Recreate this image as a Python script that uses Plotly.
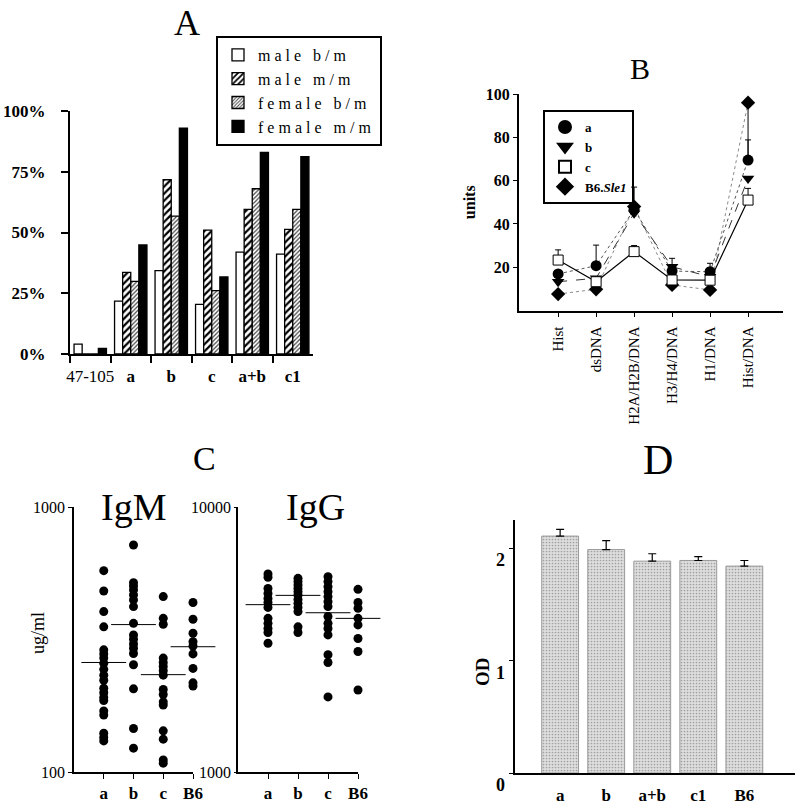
import plotly.graph_objects as go

SERIF = "Liberation Serif"
W, H = 800, 809

# ---------------- Panel A data ----------------
a_categories = ["47-105", "a", "b", "c", "a+b", "c1"]
a_ticktext = ["47-105", "<b>a</b>", "<b>b</b>", "<b>c</b>", "<b>a+b</b>", "<b>c1</b>"]
a_yticks = [0, 25, 50, 75, 100]
male_bm = [4.1, 21.8, 34.3, 20.4, 41.9, 41.1]
male_mm = [0, 33.6, 71.7, 51.0, 59.5, 51.3]
female_bm = [0, 29.9, 56.7, 26.1, 68.0, 59.5]
female_mm = [2.3, 44.9, 92.9, 31.7, 83.0, 81.2]

# ---------------- Panel B data ----------------
b_categories = ["Hist", "dsDNA", "H2A/H2B/DNA", "H3/H4/DNA", "H1/DNA", "Hist/DNA"]
b_yticks = [20, 40, 60, 80, 100]
b_a = [16.9, 20.7, 46.6, 18.2, 17.9, 69.5]
b_b = [13.3, 14.9, 44.9, 20.2, 15.6, 61.0]
b_c = [23.3, 13.3, 27.2, 14.1, 14.0, 51.0]
b_b6 = [7.6, 9.8, 48.0, 11.8, 9.5, 96.0]
b_a_err = [0, 9.5, 10.4, 5.9, 3.9, 9.3]
b_c_err = [4.7, 0, 2.8, 0, 0, 5.4]
b_b6_err_minus = [0, 0, 0, 0, 0, 26]

# ---------------- Panel C data ----------------
c_groups = ["a", "b", "c", "B6"]
igm_a = [575, 482, 403, 353, 289, 279, 269, 257, 244, 232, 222, 207, 199, 191, 186, 170, 164, 140, 135, 131]
igm_b = [719, 518, 503, 486, 466, 446, 421, 364, 329, 317, 304, 293, 280, 254, 206, 146, 123]
igm_c = [459, 380, 361, 269, 259, 250, 241, 232, 205, 196, 184, 179, 143, 133, 111, 108]
igm_b6 = [436, 377, 334, 310, 299, 279, 246, 217, 211]
igm_median = [259, 360, 233, 297]
igg_a = [5590, 5430, 4930, 4720, 4520, 4360, 4180, 3800, 3640, 3480, 3360, 3060]
igg_b = [5380, 5230, 5080, 4930, 4790, 4660, 4480, 4330, 4180, 4030, 3530, 3360]
igg_c = [5460, 5230, 5000, 4790, 4590, 4390, 4210, 3860, 3640, 3480, 3290, 2770, 2590, 1920]
igg_b6 = [4890, 4360, 4150, 3800, 3590, 3190, 2850, 2040]
igg_median = [4280, 4640, 3990, 3800]

# ---------------- Panel D data ----------------
d_categories = ["a", "b", "a+b", "c1", "B6"]
d_yticks = [0, 1, 2]
d_od = [2.107, 1.987, 1.884, 1.890, 1.840]
d_err = [0.059, 0.080, 0.066, 0.035, 0.050]


def xd(x0, x1):
    return [x0 / W, x1 / W]


def yd(ybot, ytop):
    return [1 - ybot / H, 1 - ytop / H]


def bold(items):
    return ["<b>%s</b>" % t for t in items]


def spaced(t):
    return '<span style="letter-spacing:4px">%s</span>' % t


fig = go.Figure()

# ---- Panel A bars ----
def bar(name, vals, color, pattern=None, line="black"):
    m = dict(color=color, line=dict(color=line, width=1.3))
    if pattern:
        m["pattern"] = pattern
    fig.add_trace(go.Bar(x=a_categories, y=vals, name=spaced(name), marker=m,
                         xaxis="x", yaxis="y", legend="legend"))

bar("male b/m", male_bm, "white")
bar("male m/m", male_mm, "white",
    dict(shape="/", fgcolor="black", bgcolor="white", size=5, solidity=0.45, fillmode="replace"))
bar("female b/m", female_bm, "white",
    dict(shape="/", fgcolor="#444", bgcolor="white", size=3, solidity=0.4, fillmode="replace"))
bar("female m/m", female_mm, "black")

# ---- Panel B lines ----
err_style = dict(type="data", symmetric=False, color="black", thickness=1, width=3)
fig.add_trace(go.Scatter(x=b_categories, y=b_b6, mode="lines+markers", showlegend=False,
                         line=dict(color="#8a8a8a", width=1, dash="dot"),
                         marker=dict(symbol="diamond", size=11, color="black"),
                         error_y=dict(err_style, array=[0] * 6, arrayminus=b_b6_err_minus, width=0),
                         xaxis="x2", yaxis="y2"))
fig.add_trace(go.Scatter(x=b_categories, y=b_b, mode="lines+markers", showlegend=False,
                         line=dict(color="#333", width=1, dash="dash"),
                         marker=dict(symbol="triangle-down", size=11, color="black"),
                         xaxis="x2", yaxis="y2"))
fig.add_trace(go.Scatter(x=b_categories, y=b_a, mode="lines+markers", showlegend=False,
                         line=dict(color="#555", width=1, dash="dot"),
                         marker=dict(symbol="circle", size=11, color="black"),
                         error_y=dict(err_style, array=b_a_err, arrayminus=[0] * 6),
                         xaxis="x2", yaxis="y2"))
fig.add_trace(go.Scatter(x=b_categories, y=b_c, mode="lines+markers", showlegend=False,
                         line=dict(color="black", width=1.2),
                         marker=dict(symbol="square", size=10, color="white", line=dict(color="black", width=1)),
                         error_y=dict(err_style, array=b_c_err, arrayminus=[0] * 6),
                         xaxis="x2", yaxis="y2"))
# legend-only entries for panel B
for nm, sym in [("a", "circle"), ("b", "triangle-down"),
                ("c", "square-open"), ("B6.<i>Sle1</i>", "diamond")]:
    fig.add_trace(go.Scatter(x=[None], y=[None], mode="markers", name="<b>%s</b>" % nm,
                             marker=dict(symbol=sym, size=10, color="black", line=dict(width=1, color="black")),
                             xaxis="x2", yaxis="y2", legend="legend2"))

# ---- Panel C dots ----
dot = dict(symbol="circle", size=9, color="black")
med = dict(symbol="line-ew", size=32, line=dict(color="black", width=1))
for g, vals in zip(c_groups, [igm_a, igm_b, igm_c, igm_b6]):
    fig.add_trace(go.Scatter(x=[g] * len(vals), y=vals, mode="markers", marker=dot, cliponaxis=False,
                             showlegend=False, xaxis="x3", yaxis="y3"))
fig.add_trace(go.Scatter(x=c_groups, y=igm_median, mode="markers", marker=med, cliponaxis=False,
                         showlegend=False, xaxis="x3", yaxis="y3"))
for g, vals in zip(c_groups, [igg_a, igg_b, igg_c, igg_b6]):
    fig.add_trace(go.Scatter(x=[g] * len(vals), y=vals, mode="markers", marker=dot, cliponaxis=False,
                             showlegend=False, xaxis="x4", yaxis="y4"))
fig.add_trace(go.Scatter(x=c_groups, y=igg_median, mode="markers", marker=med, cliponaxis=False,
                         showlegend=False, xaxis="x4", yaxis="y4"))

# ---- Panel D bars ----
fig.add_trace(go.Bar(x=d_categories, y=d_od, showlegend=False,
                     marker=dict(color="#d8d8d8", line=dict(color="#9a9a9a", width=1),
                                 pattern=dict(shape=".", fgcolor="#a0a0a0", bgcolor="#dedede",
                                              size=3, solidity=0.25, fillmode="replace")),
                     error_y=dict(type="data", symmetric=False, array=d_err, arrayminus=[0] * 5,
                                  color="black", thickness=1.2, width=4),
                     xaxis="x5", yaxis="y5"))

tf = lambda s: dict(family=SERIF, size=s, color="black")

layout = dict(
    width=W, height=H, margin=dict(l=0, r=0, t=0, b=0, pad=0, autoexpand=False),
    paper_bgcolor="white", plot_bgcolor="rgba(0,0,0,0)",
    barmode="group", bargap=0.2, bargroupgap=0,
    font=dict(family=SERIF, color="black"),
    # Panel A
    xaxis=dict(domain=xd(70, 313), anchor="y", type="category", range=[-0.5, 5.5],
               tickmode="array", tickvals=a_categories, ticktext=a_ticktext, tickangle=0,
               tickson="boundaries", ticks="outside", ticklen=7, tickwidth=2, tickcolor="black",
               showline=True, linecolor="black", linewidth=2, showgrid=False,
               tickfont=tf(17), ticklabelstandoff=6),
    yaxis=dict(domain=yd(354, 111), anchor="x", range=[0, 100],
               tickmode="array", tickvals=a_yticks, ticktext=bold(["%d%%" % v for v in a_yticks]),
               ticks="outside", ticklen=7,
               tickwidth=2, tickcolor="black", showline=True, linecolor="black", linewidth=2,
               showgrid=False, zeroline=False, tickfont=tf(17), ticklabelstandoff=12),
    # Panel B
    xaxis2=dict(domain=xd(519, 783), anchor="y2", type="category", range=[-1.03, 5.92],
                ticks="outside", ticklen=4, tickcolor="black", tickangle=-90,
                showline=True, linecolor="black", linewidth=2, showgrid=False,
                tickfont=tf(15), ticklabelstandoff=4),
    yaxis2=dict(domain=yd(310.5, 94), anchor="x2", range=[0, 100],
                tickmode="array", tickvals=b_yticks, ticktext=bold([str(v) for v in b_yticks]),
                ticks="outside", ticklen=4, tickcolor="black",
                showline=True, linecolor="black", linewidth=2, showgrid=False, zeroline=False,
                tickfont=tf(16),
                title=dict(text="<b>units</b>", font=tf(16), standoff=6)),
    # Panel C IgM
    xaxis3=dict(domain=xd(74, 193), anchor="y3", type="category", range=[-1, 3],
                ticks="outside", ticklen=5, tickcolor="black", showline=True, linecolor="black",
                linewidth=1.5, showgrid=False, tickfont=tf(17), tickangle=0,
                tickmode="array", tickvals=c_groups, ticktext=bold(c_groups)),
    yaxis3=dict(domain=yd(772, 507), anchor="x3", type="log", range=[2, 3],
                tickmode="array", tickvals=[100, 1000], ticktext=["100", "1000"],
                ticks="outside", ticklen=4,
                tickcolor="black", showline=True, linecolor="black", linewidth=1.5,
                showgrid=False, zeroline=False, tickfont=tf(16)),
    # Panel C IgG
    xaxis4=dict(domain=xd(238, 358), anchor="y4", type="category", range=[-1, 3],
                ticks="outside", ticklen=5, tickcolor="black", showline=True, linecolor="black",
                linewidth=1.5, showgrid=False, tickfont=tf(17), tickangle=0,
                tickmode="array", tickvals=c_groups, ticktext=bold(c_groups)),
    yaxis4=dict(domain=yd(772, 507), anchor="x4", type="log", range=[3, 4],
                tickmode="array", tickvals=[1000, 10000], ticktext=["1000", "10000"],
                ticks="outside", ticklen=2,
                tickcolor="black", showline=True, linecolor="black", linewidth=1.5,
                showgrid=False, zeroline=False, tickfont=tf(16)),
    # Panel D
    xaxis5=dict(domain=xd(515, 795), anchor="y5", type="category", range=[-0.98, 5.1],
                ticks="", showline=True, linecolor="black", linewidth=2, showgrid=False,
                tickfont=tf(17), ticklabelstandoff=6, tickangle=0,
                tickmode="array", tickvals=d_categories, ticktext=bold(d_categories)),
    yaxis5=dict(domain=yd(773, 520), anchor="x5", range=[0, 2.25],
                tickmode="array", tickvals=d_yticks, showticklabels=False,
                ticks="outside", ticklen=4, tickcolor="black",
                showline=True, linecolor="black", linewidth=2, showgrid=False, zeroline=False),
    legend=dict(x=216 / W, y=1 - 36 / H, xanchor="left", yanchor="top",
                bordercolor="black", borderwidth=2, bgcolor="white",
                font=tf(16), itemwidth=30, tracegroupgap=0),
    legend2=dict(x=543 / W, y=1 - 110 / H, xanchor="left", yanchor="top",
                 bordercolor="black", borderwidth=2, bgcolor="rgba(255,255,255,0)",
                 font=tf(13), itemwidth=30, tracegroupgap=0, itemsizing="constant"),
)
fig.update_layout(**layout)

# Panel D tick labels sit a little below their ticks, as in the original
for v in d_yticks:
    fig.add_annotation(text="<b>%d</b>" % v, xref="paper", yref="y5", x=500 / W, y=v,
                       yshift=-12, xanchor="center", yanchor="middle", showarrow=False,
                       font=tf(18))

def label(txt, x, y, size, bold_text=False, angle=0):
    fig.add_annotation(text=("<b>%s</b>" % txt) if bold_text else txt,
                       x=x / W, y=1 - y / H, xref="paper", yref="paper",
                       xanchor="center", yanchor="middle", textangle=angle,
                       showarrow=False, font=dict(family=SERIF, size=size, color="black"))

label("A", 187, 23, 36)
label("B", 640, 68, 30)
label("C", 204, 458, 34)
label("D", 658, 460, 42)
label("IgM", 133, 507, 38)
label("IgG", 315, 507, 38)
label("ug/ml", 38, 633, 18, angle=-90)
label("OD", 482, 672, 19, bold_text=True, angle=-90)

fig.write_html("out.html", config={"displayModeBar": False},
               post_script="document.body.style.margin='0';document.body.style.overflow='hidden';")
